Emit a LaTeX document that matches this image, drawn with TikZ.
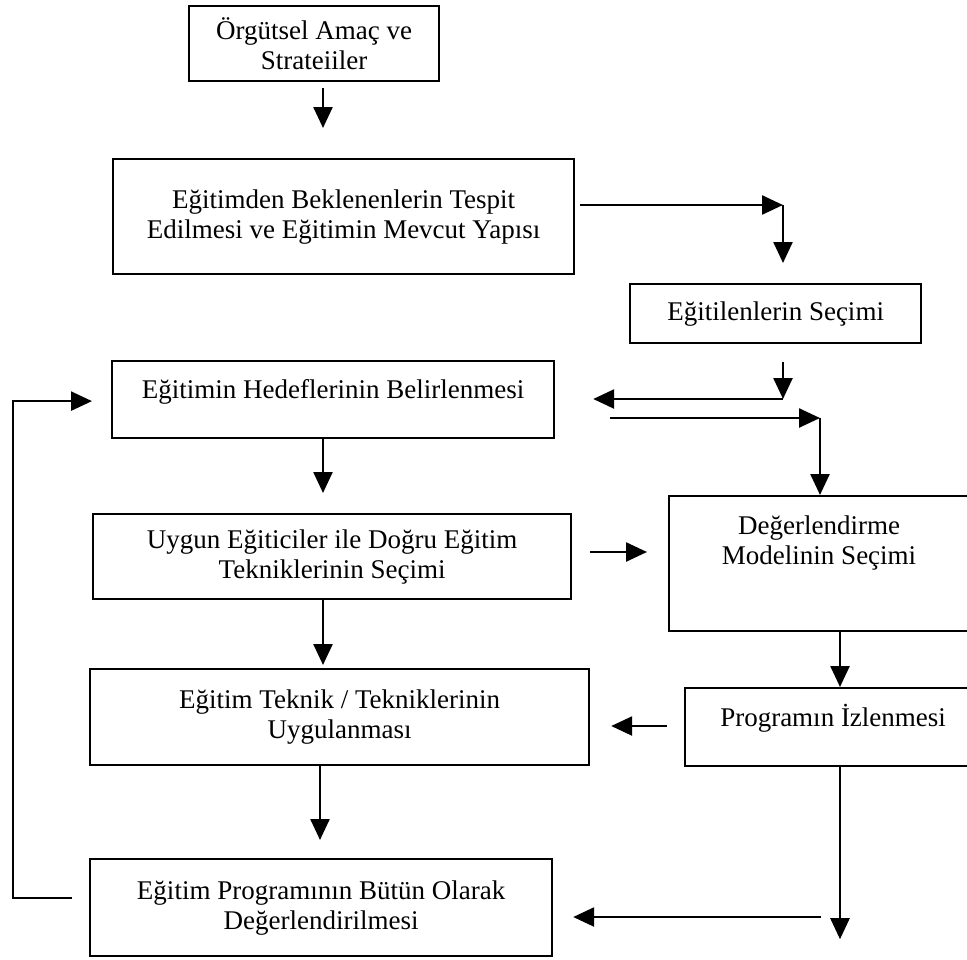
\documentclass[tikz,border=0pt]{standalone}
\usepackage{fontspec}
\setmainfont{Liberation Serif}
\usetikzlibrary{arrows.meta, calc}

\begin{document}
\begin{tikzpicture}[
    x=1pt, y=-1pt,
    font=\fontsize{27}{30}\selectfont,
    box/.style={rectangle, draw=black, line width=2.2pt, align=center,
                anchor=north west, inner sep=3pt},
    arr/.style={-{Triangle[length=21pt, width=19pt]}, line width=2.5pt}
]
\useasboundingbox (0,0) rectangle (967,959);

\node[box, minimum width=250pt, minimum height=75pt]
    (amac)   at (188,5)   {Örgütsel Amaç ve\\Strateiiler};
\node[box, minimum width=461pt, minimum height=115pt]
    (tespit) at (112,158) {Eğitimden Beklenenlerin Tespit\\Edilmesi ve Eğitimin Mevcut Yapısı};
\node[box, minimum width=291pt, minimum height=59pt]
    (secim)  at (629,283) {Eğitilenlerin Seçimi};
\node[box, minimum width=442pt, minimum height=77pt, text depth=21pt]
    (hedef)  at (111,360) {Eğitimin Hedeflerinin Belirlenmesi};
\node[box, minimum width=478pt, minimum height=85pt]
    (uygun)  at (92,513)  {Uygun Eğiticiler ile Doğru Eğitim\\Tekniklerinin Seçimi};
\node[box, minimum width=300pt, minimum height=135pt, text depth=47pt]
    (model)  at (668,495) {Değerlendirme\\Modelinin Seçimi};
\node[box, minimum width=296pt, minimum height=78pt, text depth=23pt]
    (izle)   at (684,687) {Programın İzlenmesi};
\node[box, minimum width=499pt, minimum height=96pt]
    (teknik) at (89,668)  {Eğitim Teknik / Tekniklerinin\\Uygulanması};
\node[box, minimum width=462pt, minimum height=97pt]
    (butun)  at (89,858)  {Eğitim Programının Bütün Olarak\\Değerlendirilmesi};

\coordinate (colL) at (323,0);
\coordinate (colB) at (320,0);
\coordinate (colR) at (840,0);
\coordinate (rowM) at (0,552);
\coordinate (rowP) at (0,726);
\coordinate (k1) at (783,205);
\coordinate (k2) at (783,399);
\coordinate (k3) at (820,418);
\coordinate (q)  at (821,917);

\draw[arr, shorten <=6pt, shorten >=30pt] (amac.south -| colL) -- (tespit.north -| colL);
\draw[arr, shorten <=5pt] (tespit.east |- k1) -- (k1);
\draw[arr, shorten >=20pt] (k1) -- (secim.north -| k1);
\draw[arr, shorten <=18pt] (secim.south -| k2) -- (k2);
\draw[arr, shorten >=38pt] (k2) -- (hedef.east |- k2);
\draw[arr, shorten <=55pt] (hedef.east |- k3) -- (k3);
\draw[arr] (k3) -- (model.north -| k3);
\draw[arr, shorten >=20pt] (hedef.south -| colL) -- (uygun.north -| colL);
\draw[arr, shorten <=18pt, shorten >=21pt] (uygun.east |- rowM) -- (model.west |- rowM);
\draw[arr, shorten >=3pt] (uygun.south -| colL) -- (teknik.north -| colL);
\draw[arr] (model.south -| colR) -- (izle.north -| colR);
\draw[arr, shorten <=17pt, shorten >=21pt] (izle.west |- rowP) -- (teknik.east |- rowP);
\draw[arr, shorten >=18pt] (teknik.south -| colB) -- (butun.north -| colB);
\draw[arr, shorten >=18pt] (izle.south -| colR) -- (colR |- butun.south);
\draw[arr, shorten >=20pt] (q) -- (butun.east |- q);
\draw[arr] ($(butun.west)+(-17,-9.5)$) -- ++(-59,0) |- ($(hedef.west)+(-19,1.5)$);
\end{tikzpicture}
\end{document}
